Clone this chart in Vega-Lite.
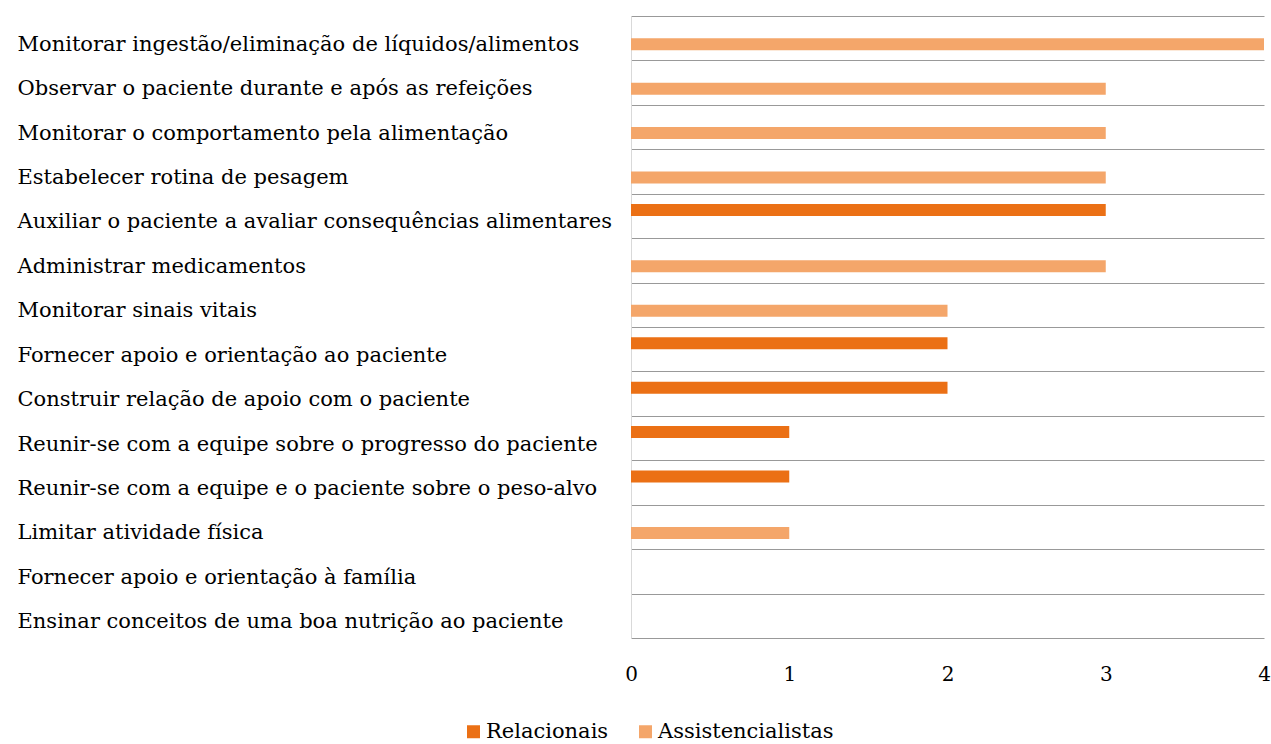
{
  "$schema": "https://vega.github.io/schema/vega-lite/v6.json",
  "width": 633,
  "height": 622,
  "autosize": {"type": "none"},
  "padding": {"left": 631, "top": 16, "right": 7, "bottom": 106},
  "background": "white",
  "config": {"view": {"stroke": null}, "font": "DejaVu Serif"},
  "data": {
    "values": [
      {"categoria": "Monitorar ingestão/eliminação de líquidos/alimentos", "serie": "Relacionais", "valor": 0},
      {"categoria": "Monitorar ingestão/eliminação de líquidos/alimentos", "serie": "Assistencialistas", "valor": 4},
      {"categoria": "Observar o paciente durante e após as refeições", "serie": "Relacionais", "valor": 0},
      {"categoria": "Observar o paciente durante e após as refeições", "serie": "Assistencialistas", "valor": 3},
      {"categoria": "Monitorar o comportamento pela alimentação", "serie": "Relacionais", "valor": 0},
      {"categoria": "Monitorar o comportamento pela alimentação", "serie": "Assistencialistas", "valor": 3},
      {"categoria": "Estabelecer rotina de pesagem", "serie": "Relacionais", "valor": 0},
      {"categoria": "Estabelecer rotina de pesagem", "serie": "Assistencialistas", "valor": 3},
      {"categoria": "Auxiliar o paciente a avaliar consequências alimentares", "serie": "Relacionais", "valor": 3},
      {"categoria": "Auxiliar o paciente a avaliar consequências alimentares", "serie": "Assistencialistas", "valor": 0},
      {"categoria": "Administrar medicamentos", "serie": "Relacionais", "valor": 0},
      {"categoria": "Administrar medicamentos", "serie": "Assistencialistas", "valor": 3},
      {"categoria": "Monitorar sinais vitais", "serie": "Relacionais", "valor": 0},
      {"categoria": "Monitorar sinais vitais", "serie": "Assistencialistas", "valor": 2},
      {"categoria": "Fornecer apoio e orientação ao paciente", "serie": "Relacionais", "valor": 2},
      {"categoria": "Fornecer apoio e orientação ao paciente", "serie": "Assistencialistas", "valor": 0},
      {"categoria": "Construir relação de apoio com o paciente", "serie": "Relacionais", "valor": 2},
      {"categoria": "Construir relação de apoio com o paciente", "serie": "Assistencialistas", "valor": 0},
      {"categoria": "Reunir-se com a equipe sobre o progresso do paciente", "serie": "Relacionais", "valor": 1},
      {"categoria": "Reunir-se com a equipe sobre o progresso do paciente", "serie": "Assistencialistas", "valor": 0},
      {"categoria": "Reunir-se com a equipe e o paciente sobre o peso-alvo", "serie": "Relacionais", "valor": 1},
      {"categoria": "Reunir-se com a equipe e o paciente sobre o peso-alvo", "serie": "Assistencialistas", "valor": 0},
      {"categoria": "Limitar atividade física", "serie": "Relacionais", "valor": 0},
      {"categoria": "Limitar atividade física", "serie": "Assistencialistas", "valor": 1},
      {"categoria": "Fornecer apoio e orientação à família", "serie": "Relacionais", "valor": 0},
      {"categoria": "Fornecer apoio e orientação à família", "serie": "Assistencialistas", "valor": 0},
      {"categoria": "Ensinar conceitos de uma boa nutrição ao paciente", "serie": "Relacionais", "valor": 0},
      {"categoria": "Ensinar conceitos de uma boa nutrição ao paciente", "serie": "Assistencialistas", "valor": 0}
    ]
  },
  "mark": {"type": "bar"},
  "encoding": {
    "y": {
      "field": "categoria",
      "type": "nominal",
      "sort": null,
      "scale": {"paddingInner": 0, "paddingOuter": 0},
      "axis": {
        "title": null,
        "labelAlign": "left",
        "labelBaseline": "middle",
        "labelPadding": 614,
        "labelLimit": 0,
        "ticks": false,
        "tickSize": 0,
        "labelFontSize": 21,
        "labelColor": "#000000",
        "domainColor": "#d9d9d9",
        "grid": true,
        "gridColor": "#999999",
        "gridOpacity": 1,
        "tickBand": "extent",
        "labelOffset": 6
      }
    },
    "yOffset": {
      "field": "serie",
      "type": "nominal",
      "sort": ["Relacionais", "Assistencialistas"],
      "scale": {"paddingInner": 0, "paddingOuter": 0.85}
    },
    "x": {
      "field": "valor",
      "type": "quantitative",
      "scale": {"domain": [0, 4]},
      "axis": {
        "title": null,
        "values": [0, 1, 2, 3, 4],
        "grid": false,
        "domain": false,
        "ticks": false,
        "labelPadding": 26,
        "labelFontSize": 20,
        "labelColor": "#000000",
        "labelFlush": false
      }
    },
    "color": {
      "field": "serie",
      "type": "nominal",
      "scale": {"domain": ["Relacionais", "Assistencialistas"], "range": ["#EB7015", "#F4A66A"]},
      "legend": {
        "title": null,
        "orient": "none",
        "direction": "horizontal",
        "legendX": -168,
        "legendY": 705,
        "symbolType": "square",
        "symbolSize": 169,
        "symbolStrokeWidth": 0,
        "labelFontSize": 21,
        "labelLimit": 0,
        "labelColor": "#000000",
        "columnPadding": 26,
        "labelOffset": 2
      }
    }
  }
}
